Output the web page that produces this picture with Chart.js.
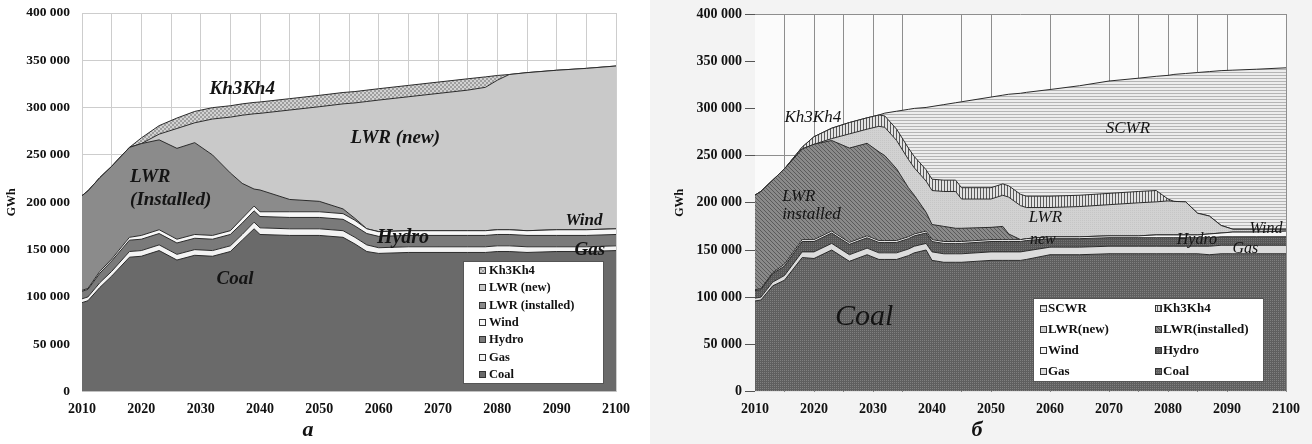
<!DOCTYPE html>
<html>
<head>
<meta charset="utf-8">
<script src="https://cdn.jsdelivr.net/npm/chart.js@4.4.1/dist/chart.umd.min.js"></script>
<style>
  html, body { margin: 0; padding: 0; background: #fff; }
  #wrap { position: relative; width: 1312px; height: 444px; overflow: hidden; }
  canvas { position: absolute; top: 0; }
  #chartA { left: 0; }
  #chartB { left: 650px; }
</style>
</head>
<body>
<div id="wrap">
  <canvas id="chartA" width="650" height="444"></canvas>
  <canvas id="chartB" width="662" height="444"></canvas>
</div>
<script>
// ---- panel (a): values in GWh ----
const yearsA = [2010, 2011, 2013, 2015, 2018, 2020, 2023, 2026, 2029, 2032, 2035, 2037, 2039, 2040, 2045,
  2050, 2054, 2056, 2058, 2060, 2065, 2070, 2075, 2078, 2080, 2082, 2085, 2090, 2095, 2100];
const coalA = [94000, 96000, 110000, 122000, 142000, 143000, 149000, 139000, 144000, 143000, 148000, 160000, 172000, 166000, 165000,
  165000, 163000, 156000, 148000, 146000, 147000, 147000, 147000, 147000, 148000, 148000, 147000, 148000, 148000, 149000];
const gasA = [4000, 4000, 5000, 5000, 6000, 6000, 6000, 6000, 6000, 6000, 6000, 6000, 7000, 7000, 7000,
  7000, 7000, 7000, 7000, 6000, 6000, 6000, 6000, 6000, 6000, 6000, 6000, 5000, 5000, 5000];
const hydroA = [8000, 8000, 10000, 11000, 12000, 12000, 12000, 12000, 12000, 12000, 12000, 12000, 12000, 12000, 12000,
  12000, 12000, 12000, 12000, 12000, 12000, 12000, 12000, 12000, 12000, 12000, 12000, 12000, 12000, 12000];
const windA = [1000, 1000, 2000, 2000, 3000, 4000, 4000, 4000, 4000, 4000, 4000, 5000, 5000, 5000, 6000,
  6000, 6000, 6000, 5000, 5000, 5000, 5000, 5000, 5000, 5000, 5000, 5000, 6000, 6000, 6000];
const lwrInstA = [100000, 103000, 99000, 98000, 95000, 97000, 95000, 96000, 97000, 85000, 61000, 37000, 18000, 23000, 13000,
  11000, 5000, 2000, 0, 0, 0, 0, 0, 0, 0, 0, 0, 0, 0, 0];
const lwrNewA = [0, 0, 0, 0, 0, 0, 6000, 21000, 21000, 38000, 59000, 72000, 79500, 81000, 94500,
  100000, 111000, 122000, 134500, 139000, 141500, 145000, 148500, 151500, 158000, 164000, 167000, 168500, 170500, 172000];
const khA = [0, 0, 0, 0, 0, 6000, 9000, 11000, 12000, 12000, 12000, 12000, 12000, 12000, 12000,
  12000, 12000, 12000, 12000, 12000, 12000, 12000, 12000, 11000, 5000, 0, 0, 0, 0, 0];

// ---- panel (b) ----
const yearsB = [2010, 2011, 2013, 2015, 2018, 2020, 2023, 2026, 2029, 2031, 2032, 2034, 2036, 2037, 2039, 2040, 2042, 2044, 2045,
  2050, 2052, 2053, 2055, 2056, 2060, 2065, 2070, 2075, 2078, 2080, 2081, 2083, 2085, 2087, 2089, 2091, 2095, 2100];
const coalB = [96000, 97000, 112000, 118000, 142000, 141000, 150000, 138000, 145000, 140000, 140000, 140000, 144000, 147000, 150000, 139000, 137000, 137000, 137000,
  139000, 139000, 139000, 139000, 140000, 145000, 145000, 146000, 146000, 146000, 146000, 146000, 146000, 146000, 145000, 146000, 146000, 146000, 146000];
const gasB = [3000, 3000, 4000, 5000, 6000, 7000, 7000, 7000, 7000, 7000, 7000, 7000, 7000, 7000, 7000, 9000, 9000, 9000, 9000,
  9000, 9000, 9000, 9000, 9000, 8000, 8000, 8000, 8000, 8000, 8000, 8000, 8000, 8000, 9000, 9000, 9000, 9000, 9000];
const hydroB = [8000, 8000, 9000, 10000, 11000, 11000, 11000, 11000, 11000, 11000, 11000, 11000, 11000, 11000, 11000, 11000, 11000, 11000, 11000,
  11000, 11000, 11000, 11000, 11000, 9000, 9000, 9000, 9000, 9000, 9000, 9000, 9000, 9000, 9000, 9000, 9000, 9000, 9000];
const windB = [1000, 1000, 1000, 2000, 2000, 2000, 2000, 2000, 2000, 2000, 2000, 2000, 2000, 2000, 2000, 2000, 2000, 2000, 2000,
  2000, 2000, 2000, 2000, 2000, 2000, 2000, 2000, 2000, 3000, 3000, 3000, 3000, 3000, 4000, 4000, 5000, 5000, 6000];
const lwrInstB = [100000, 103000, 98000, 101000, 96000, 101000, 96000, 100000, 98000, 94000, 90000, 76000, 52000, 41000, 20000, 16000, 16000, 14000, 14000,
  13000, 14000, 6000, 0, 0, 0, 0, 0, 0, 0, 0, 0, 0, 0, 0, 0, 0, 0, 0];
const lwrNewB = [0, 0, 0, 0, 0, 0, 2000, 15000, 15000, 27000, 30000, 30000, 30000, 29000, 33000, 36000, 37000, 39000, 31000,
  30000, 33000, 39000, 36000, 33000, 31000, 32000, 33000, 35000, 35000, 36000, 35500, 35000, 23000, 19000, 8000, 3000, 3000, 2000];
const khB = [0, 0, 0, 0, 2000, 8000, 11000, 12000, 12000, 12000, 12000, 12000, 12000, 12000, 12000, 12000, 12000, 12000, 12000,
  12000, 12000, 12000, 12000, 12000, 12000, 12000, 12000, 12000, 12000, 2000, 0, 0, 0, 0, 0, 0, 0, 0];
const scwrB = [0, 0, 0, 0, 0, 0, 0, 0, 0, 0, 3000, 19000, 41000, 51000, 66000, 77000, 80000, 82000, 91000,
  96000, 94000, 97000, 107000, 110000, 113000, 116000, 119000, 120000, 121000, 131000, 134500, 136000, 149000, 153000, 164000, 168500, 169500, 171000];

const SERIF = '"Liberation Serif", "DejaVu Serif", serif';

// small tiles for the hatched fills
function makePattern(w, h, bg, fg, cells) {
  const c = document.createElement('canvas');
  c.width = w; c.height = h;
  const g = c.getContext('2d');
  g.fillStyle = bg; g.fillRect(0, 0, w, h);
  g.fillStyle = fg;
  cells.forEach(p => g.fillRect(p[0], p[1], 1, 1));
  return g.createPattern(c, 'repeat');
}

const panelBg = {
  id: 'panelBg',
  beforeDraw(chart, args, o) {
    const {ctx, chartArea: a} = chart;
    ctx.save();
    ctx.fillStyle = o.outer; ctx.fillRect(0, 0, chart.width, chart.height);
    ctx.fillStyle = o.inner; ctx.fillRect(a.left, a.top, a.right - a.left, a.bottom - a.top);
    ctx.restore();
  }
};

// names written onto the areas
const areaLabels = {
  id: 'areaLabels',
  afterDatasetsDraw(chart, args, o) {
    const ctx = chart.ctx, sx = chart.scales.x, sy = chart.scales.y;
    ctx.save();
    ctx.fillStyle = '#141414';
    ctx.textBaseline = 'middle';
    o.items.forEach(t => {
      ctx.font = t.font;
      ctx.textAlign = t.align || 'center';
      ctx.fillText(t.text, sx.getPixelForValue(t.year), sy.getPixelForValue(t.value));
    });
    ctx.restore();
  }
};

// white legend box inside the plot
const boxLegend = {
  id: 'boxLegend',
  afterDraw(chart, args, o) {
    const a = chart.chartArea, ctx = chart.ctx;
    const w = a.right - a.left, h = a.bottom - a.top;
    const x0 = Math.round(a.left + o.box[0] * w), y0 = Math.round(a.top + o.box[1] * h);
    const x1 = Math.round(a.left + o.box[2] * w), y1 = Math.round(a.top + o.box[3] * h);
    ctx.save();
    ctx.fillStyle = '#fff';
    ctx.fillRect(x0, y0, x1 - x0, y1 - y0);
    ctx.strokeStyle = '#555'; ctx.lineWidth = 1;
    ctx.strokeRect(x0 + 0.5, y0 + 0.5, x1 - x0, y1 - y0);
    ctx.font = o.font;
    ctx.textBaseline = 'middle';
    ctx.textAlign = 'left';
    const items = chart.data.datasets.slice().reverse();
    items.forEach((ds, i) => {
      const col = i % o.colX.length, row = Math.floor(i / o.colX.length);
      const mx = Math.round(x0 + o.colX[col]), my = Math.round(y0 + o.rowY + row * o.rowGap);
      ctx.fillStyle = ds.backgroundColor;
      ctx.fillRect(mx, my - 3, 7, 7);
      ctx.strokeStyle = '#333';
      ctx.strokeRect(mx + 0.5, my - 2.5, 6, 6);
      ctx.fillStyle = '#111';
      ctx.fillText(ds.label, mx + o.textGap, my + 1);
    });
    ctx.restore();
  }
};

function spaced(v) {
  return String(v).replace(/\B(?=(\d{3})+(?!\d))/g, ' ');
}

function buildChart(id, years, series, cfg) {
  const datasets = series.map((s, i) => ({
    label: s.label,
    data: years.map((yr, k) => ({x: yr, y: s.values[k]})),
    backgroundColor: s.color,
    borderColor: '#2b2b2b',
    borderWidth: 1,
    pointRadius: 0,
    tension: 0,
    fill: i === 0 ? 'origin' : '-1'
  }));

  return new Chart(document.getElementById(id), {
    type: 'line',
    data: { datasets: datasets },
    plugins: [panelBg, areaLabels, boxLegend],
    options: {
      responsive: false,
      animation: false,
      events: [],
      layout: { padding: cfg.padding },
      scales: {
        x: {
          type: 'linear', min: 2010, max: 2100,
          afterFit: s => { s.height = 26; },
          ticks: {
            stepSize: 5, autoSkip: false, maxRotation: 0, padding: 9, color: '#111',
            font: { family: SERIF, weight: 'bold', size: 14 },
            callback: v => (v % 10 === 0 ? String(v) : '')
          },
          grid: { color: cfg.xGridColor, drawTicks: false, lineWidth: 1 },
          border: { display: false }
        },
        y: {
          stacked: true, min: 0, max: 400000,
          afterFit: s => { s.width = cfg.yWidth; },
          ticks: {
            stepSize: 50000, padding: 3, color: '#111',
            font: { family: SERIF, weight: 'bold', size: cfg.yFont },
            callback: v => spaced(v)
          },
          grid: { color: cfg.yGridColor, drawTicks: true, tickLength: cfg.tickLen, tickColor: cfg.tickColor, lineWidth: 1 },
          border: { display: false },
          title: {
            display: true, text: 'GWh', color: '#111',
            font: { family: SERIF, weight: 'bold', size: 12 },
            padding: { top: 5, bottom: 0 }
          }
        }
      },
      plugins: {
        legend: { display: false },
        tooltip: { enabled: false },
        title: {
          display: true, position: 'bottom', text: cfg.letter, color: '#111',
          font: { family: SERIF, weight: 'bold', style: 'italic', size: 22 },
          padding: { top: 0, bottom: 0 }
        },
        panelBg: cfg.bg,
        areaLabels: { items: cfg.labels },
        boxLegend: cfg.legend
      }
    }
  });
}

window.onload = function () {
  // panel a fills
  const checkA = makePattern(4, 4, '#d2d2d2', '#9e9e9e', [[0, 0], [1, 0], [0, 1], [1, 1], [2, 2], [3, 2], [2, 3], [3, 3]]);

  const fa = 'italic bold 19px ' + SERIF;
  buildChart('chartA', yearsA, [
    { label: 'Coal', values: coalA, color: '#6a6a6a' },
    { label: 'Gas', values: gasA, color: '#f3f3f3' },
    { label: 'Hydro', values: hydroA, color: '#7a7a7a' },
    { label: 'Wind', values: windA, color: '#f7f7f7' },
    { label: 'LWR (installed)', values: lwrInstA, color: '#8b8b8b' },
    { label: 'LWR (new)', values: lwrNewA, color: '#c9c9c9' },
    { label: 'Kh3Kh4', values: khA, color: checkA }
  ], {
    letter: 'а',
    padding: { left: 0, right: 34, top: 13, bottom: 0 },
    yWidth: 82, yFont: 13.5, tickLen: 9, tickColor: 'rgba(0,0,0,0)',
    xGridColor: '#cdcdcd', yGridColor: '#cdcdcd',
    bg: { outer: '#ffffff', inner: '#ffffff' },
    labels: [
      { text: 'Kh3Kh4', year: 2037, value: 319800, font: fa },
      { text: 'LWR (new)', year: 2062.8, value: 268100, font: fa },
      { text: 'LWR', year: 2018.1, value: 226900, align: 'left', font: fa },
      { text: '(Installed)', year: 2018.1, value: 202600, align: 'left', font: fa },
      { text: 'Coal', year: 2035.8, value: 119300, font: fa },
      { text: 'Wind', year: 2094.6, value: 180500, font: 'italic bold 17px ' + SERIF },
      { text: 'Hydro', year: 2064.1, value: 162500, font: 'italic bold 20px ' + SERIF },
      { text: 'Gas', year: 2095.6, value: 149900, font: fa }
    ],
    legend: { box: [0.7135, 0.6544, 0.9757, 0.9763], colX: [16], textGap: 10, rowY: 9, rowGap: 17.3,
      font: 'bold 12.5px ' + SERIF }
  });

  // panel b fills
  const coalPat = makePattern(2, 2, '#5f5f5f', '#7f7f7f', [[0, 0]]);
  const hydroPat = makePattern(2, 2, '#575757', '#717171', [[1, 0]]);
  const instPat = makePattern(4, 4, '#8a8a8a', '#5a5a5a', [[0, 0], [1, 1], [2, 2], [3, 3]]);
  const newPat = makePattern(2, 2, '#d2d2d2', '#c6c6c6', [[0, 0]]);
  const khPat = makePattern(3, 1, '#e2e2e2', '#5a5a5a', [[0, 0]]);
  const scwrPat = makePattern(1, 3, '#ececec', '#b4b4b4', [[0, 0]]);
  const hiddenGridB = [2010, 2040, 2055, 2065, 2095];

  const fb = 'italic 17px ' + SERIF;
  buildChart('chartB', yearsB, [
    { label: 'Coal', values: coalB, color: coalPat },
    { label: 'Gas', values: gasB, color: '#dcdcdc' },
    { label: 'Hydro', values: hydroB, color: hydroPat },
    { label: 'Wind', values: windB, color: '#f6f6f6' },
    { label: 'LWR(installed)', values: lwrInstB, color: instPat },
    { label: 'LWR(new)', values: lwrNewB, color: newPat },
    { label: 'Kh3Kh4', values: khB, color: khPat },
    { label: 'SCWR', values: scwrB, color: scwrPat }
  ], {
    letter: 'б',
    padding: { left: 18, right: 26, top: 14, bottom: 0 },
    yWidth: 87, yFont: 14, tickLen: 10, tickColor: '#555',
    xGridColor: c => (hiddenGridB.includes(c.tick.value) ? 'rgba(0,0,0,0)' : '#8e8e8e'),
    yGridColor: c => (c.tick.value === 400000 || c.tick.value === 250000 ? '#8e8e8e' : 'rgba(0,0,0,0)'),
    bg: { outer: '#f3f3f3', inner: '#fbfbfb' },
    labels: [
      { text: 'Kh3Kh4', year: 2019.8, value: 290000, font: fb },
      { text: 'SCWR', year: 2073.2, value: 278300, font: fb },
      { text: 'LWR', year: 2014.6, value: 206300, align: 'left', font: fb },
      { text: 'installed', year: 2014.6, value: 187300, align: 'left', font: fb },
      { text: 'LWR', year: 2056.4, value: 184100, align: 'left', font: fb },
      { text: 'new', year: 2056.6, value: 160800, align: 'left', font: 'italic 16px ' + SERIF },
      { text: 'Wind', year: 2096.6, value: 172500, font: 'italic 16px ' + SERIF },
      { text: 'Hydro', year: 2084.9, value: 160800, font: 'italic 16px ' + SERIF },
      { text: 'Gas', year: 2093.1, value: 151300, font: 'italic 16px ' + SERIF },
      { text: 'Coal', year: 2028.5, value: 79400, font: 'italic 30px ' + SERIF }
    ],
    legend: { box: [0.5235, 0.7513, 0.9567, 0.9709], colX: [7, 122], textGap: 8, rowY: 10.3, rowGap: 20.8,
      font: 'bold 13px ' + SERIF }
  });
};
</script>
</body>
</html>
